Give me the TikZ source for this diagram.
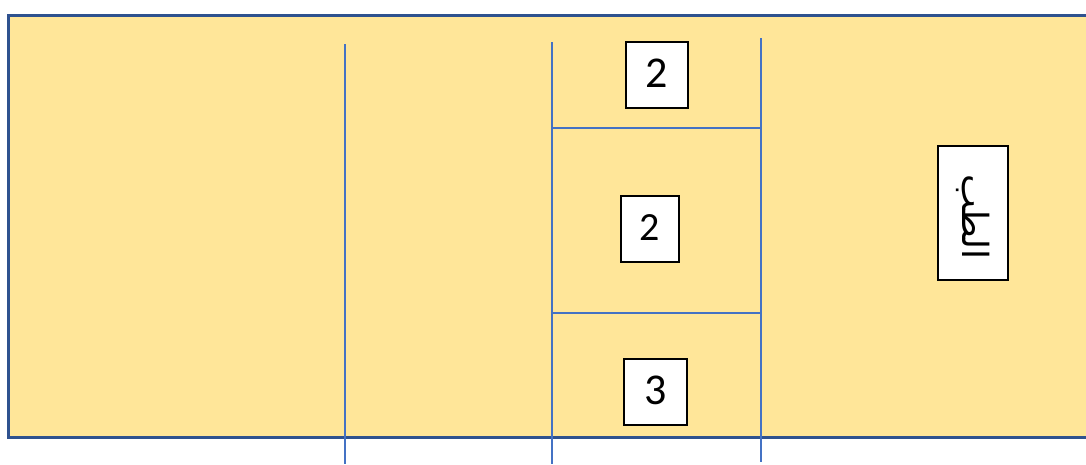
\documentclass[tikz,border=0pt]{standalone}
\usepackage{fontspec}
\setmainfont{Carlito}
\TeXXeTstate=1
\newfontfamily\arabicfont[Script=Arabic]{DejaVu Sans}
\definecolor{bgfill}{HTML}{FFE699}
\definecolor{frame}{HTML}{2F528F}
\definecolor{divline}{HTML}{4472C4}
\tikzset{
  x=1pt, y=-1pt,
  numbox/.style={draw=black, line width=1.5pt, fill=white, inner sep=0pt, text depth=3pt, font=\fontsize{44}{44}\selectfont},
  divider/.style={draw=divline, line width=1.5pt},
}
\begin{document}
\begin{tikzpicture}
\useasboundingbox (0,0) rectangle (1086,464);
\fill[bgfill] (8,15) rectangle (1096,437);
\draw[frame, line width=3pt] (1096,15) -- (8,15) -- (8,437) -- (1096,437);
\coordinate (v1t) at (345,44); \coordinate (v1b) at (345,464);
\coordinate (v2t) at (552,42); \coordinate (v2b) at (552,464);
\coordinate (v3t) at (761,38); \coordinate (v3b) at (761,462);
\coordinate (h1l) at (552,128); \coordinate (h1r) at (761,128);
\coordinate (h2l) at (552,313); \coordinate (h2r) at (761,313);
\draw[divider] (v1t) -- (v1b);
\draw[divider] (v2t) -- (v2b);
\draw[divider] (v3t) -- (v3b);
\draw[divider] (h1l) -- (h1r);
\draw[divider] (h2l) -- (h2r);
\node[numbox, minimum width=62pt, minimum height=66pt] (b1) at (657,75) {2};
\node[numbox, minimum width=58pt, minimum height=66pt, font=\fontsize{40}{40}\selectfont] (b2) at (650,229) {2};
\node[numbox, minimum width=63pt, minimum height=66pt] (b3) at (655.5,392) {3};
\node[draw=black, line width=1.5pt, fill=white, minimum width=70pt, minimum height=134pt, inner sep=0pt] (b4) at (973,213) {};
\node[rotate=-90, inner sep=0pt, font=\fontsize{36}{36}\arabicfont] (t1) at (973,217) {\beginR الطب\endR};
\end{tikzpicture}
\end{document}
